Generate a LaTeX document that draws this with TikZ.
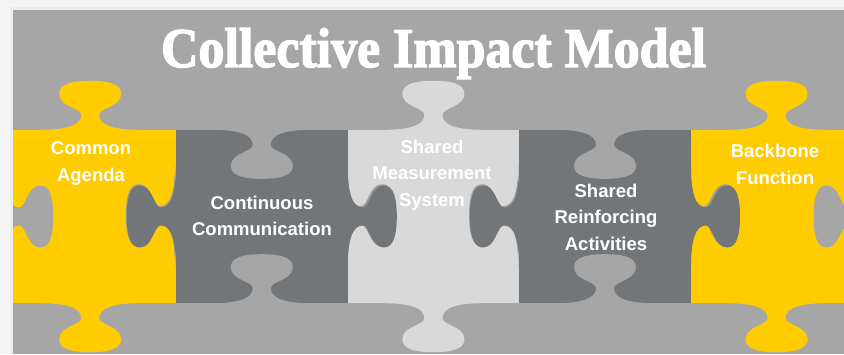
\documentclass[tikz,border=0pt]{standalone}
\usepackage{fontspec}
\setmainfont{Liberation Sans}
\newfontfamily\titlefont[FakeBold=2.6]{Liberation Serif}
\usetikzlibrary{positioning}

\definecolor{pagewhite}{HTML}{F4F4F4}
\definecolor{panelgray}{HTML}{A6A6A6}
\definecolor{agendayellow}{HTML}{FFCC00}
\definecolor{commgray}{HTML}{737679}
\definecolor{measuregray}{HTML}{D9D9D9}
\definecolor{rimgray}{HTML}{9C9C9C}

\tikzset{
	x=1pt, y=-1pt,
	piece/.style ={rectangle, inner sep=0pt, minimum width=171.6pt, minimum height=173pt},
	piecetext/.style = {text=white, align=center, font=\bfseries\fontsize{18.5}{26.6}\selectfont},
	knob/.pic = {
		\fill[pic actions] (-50,0) .. controls (-25,0) and (-9,-4) .. (-9,-15)
		.. controls (-9,-22) and (-31,-23) .. (-31,-36)
		.. controls (-31,-46) and (-18,-49) .. (0,-49)
		.. controls (18,-49) and (31,-46) .. (31,-36)
		.. controls (31,-23) and (9,-22) .. (9,-15)
		.. controls (9,-4) and (25,0) .. (50,0) -- cycle;
	},
	rim/.style = {fill=rimgray, xshift=-1.3pt, yshift=1.3pt}
}

\begin{document}
\begin{tikzpicture}
	\useasboundingbox (0,0) rectangle (844,354);
	\fill[pagewhite] (0,0) rectangle (844,354);
	% soft shadow round the panel
	\fill[black!4] (7,4) rectangle (844,354);
	\fill[black!7] (10,7) rectangle (844,354);
	\fill[panelgray] (13,10) rectangle (844,354);
	
	\begin{scope}
	\clip (13,10) rectangle (844,354);
	% pieces
	\node[piece, fill=agendayellow] (agenda) at (90.2,216.5) {};
	\node[piece, fill=measuregray] (measure) at (433.4,216.5) {};
	\node[piece, fill=agendayellow] (backbone) at (776.6,216.5) {};
	% rims under the side knobs
	\foreach \side/\turn in {agenda.east/90, measure.west/-90, measure.east/90, backbone.west/-90}
		\pic[rim, rotate=\turn] at (\side) {knob};
	\node[piece, fill=commgray] (comm) at (261.8,216.5) {};
	\node[piece, fill=commgray] (reinforce) at (605,216.5) {};
	
	% knobs on the top edge
	\pic[fill=agendayellow] at (agenda.north) {knob};
	\pic[fill=panelgray, rotate=180] at (comm.north) {knob};
	\pic[fill=measuregray] at (measure.north) {knob};
	\pic[fill=panelgray, rotate=180] at (reinforce.north) {knob};
	\pic[fill=agendayellow] at (backbone.north) {knob};
	% knobs on the bottom edge
	\pic[fill=agendayellow, rotate=180] at (agenda.south) {knob};
	\pic[fill=panelgray] at (comm.south) {knob};
	\pic[fill=measuregray, rotate=180] at (measure.south) {knob};
	\pic[fill=panelgray] at (reinforce.south) {knob};
	\pic[fill=agendayellow, rotate=180] at (backbone.south) {knob};
	% knobs on the sides
	\pic[fill=panelgray, rotate=-90] at (agenda.west) {knob};
	\foreach \side/\turn in {comm.west/90, comm.east/-90, reinforce.west/90, reinforce.east/-90}
		\pic[fill=commgray, rotate=\turn] at (\side) {knob};
	\pic[fill=panelgray, rotate=90] at (backbone.east) {knob};
	\end{scope}
	
	% title
	\node[text=white, anchor=base, font=\titlefont\bfseries\fontsize{56}{60}\selectfont] (title) at (433.5,67) {\scalebox{0.927}[1]{Collective Impact Model}};
	
	% texts
	\node[piecetext] (agendatext) at (91,163.5) {Common\\Agenda};
	\node[piecetext] (commtext) at (262,216) {Continuous\\Communication};
	\node[piecetext] (measuretext) at (432,175) {Shared\\Measurement\\System};
	\node[piecetext] (reinforcetext) at (606,217) {Shared\\Reinforcing\\Activities};
	\node[piecetext] (backbonetext) at (775,164.5) {Backbone\\Function};
\end{tikzpicture}
\end{document}
